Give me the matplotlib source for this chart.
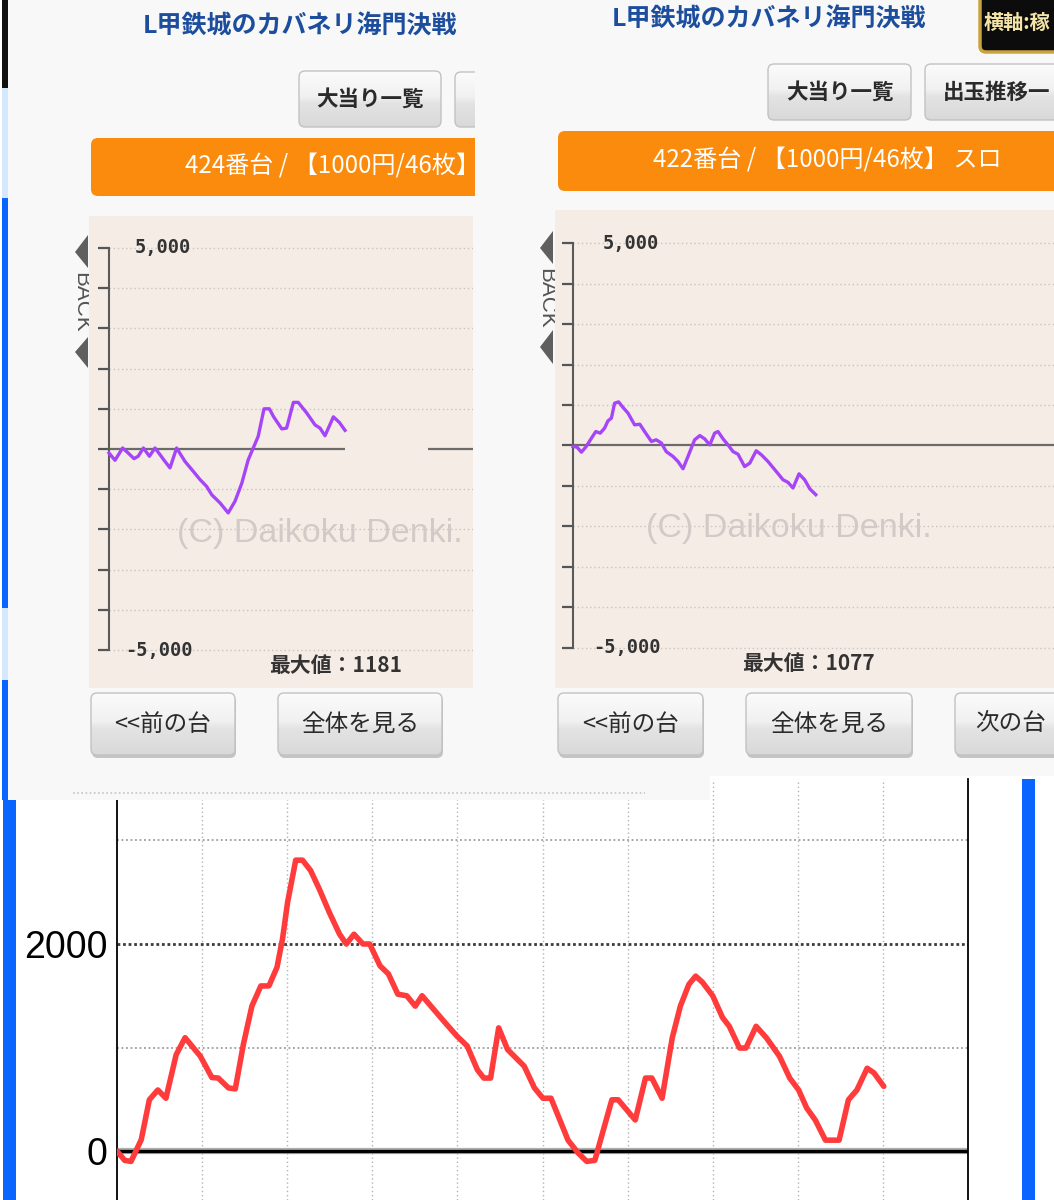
import numpy as np
import matplotlib
matplotlib.use("Agg")
import matplotlib.pyplot as plt
from matplotlib.patches import FancyBboxPatch, Rectangle, Polygon
from matplotlib.colors import LinearSegmentedColormap

plt.rcParams["font.family"] = ["Noto Sans CJK JP", "DejaVu Sans"]

# ---------------------------------------------------------------
# data (games, difference in medals)
# ---------------------------------------------------------------
left_games = [0, 150, 340, 480, 625, 730, 860, 1010, 1150, 1275, 1400, 1525,
              1690, 1900, 2110, 2275, 2440, 2570, 2775, 2980, 3150, 3320,
              3480, 3730, 3875, 4010, 4110, 4320, 4440, 4610, 4730, 4940,
              5150, 5275, 5400, 5610, 5760, 5900]
left_diff = [-100, -280, 25, -100, -240, -180, 25, -180, 25, -140, -310, -470,
             25, -310, -560, -760, -930, -1140, -1340, -1590, -1300, -850,
             -270, 315, 1000, 1000, 810, 500, 520, 1160, 1160, 900,
             600, 520, 330, 800, 660, 465]
left_max = 1181

right_games = [0, 100, 210, 330, 460, 570, 680, 790, 875, 960, 1040, 1140,
               1250, 1375, 1540, 1670, 1790, 1960, 2080, 2210, 2330, 2500,
               2625, 2750, 2875, 3040, 3170, 3290, 3420, 3540, 3625, 3750,
               3875, 4000, 4125, 4290, 4420, 4580, 4710, 4875, 5080, 5250,
               5375, 5500, 5650, 5790, 5920, 6070]
right_diff = [-25, -40, -165, -25, 180, 345, 305, 430, 610, 675, 1045, 1077,
              940, 800, 510, 525, 345, 100, 140, 60, -150, -270,
              -395, -575, -270, 140, 245, 165, 15, 305, 345, 165,
              15, -150, -215, -520, -435, -130, -230, -395, -640, -845,
              -910, -1050, -700, -845, -1070, -1215]
right_max = 1077

total_games = [0, 90, 165, 285, 380, 480, 575, 695, 800, 980, 1115, 1190,
               1310, 1390, 1485, 1585, 1690, 1785, 1880, 1945, 2005, 2100,
               2180, 2275, 2375, 2495, 2615, 2695, 2785, 2890, 2970, 3090,
               3190, 3300, 3405, 3505, 3585, 3720, 3840, 3995, 4115, 4235,
               4310, 4390, 4485, 4590, 4785, 4905, 5005, 5100, 5300, 5420,
               5520, 5615, 5815, 5890, 6090, 6210, 6285, 6405, 6525, 6620,
               6720, 6800, 6880, 7000, 7115, 7195, 7315, 7390, 7510, 7630,
               7785, 7905, 8010, 8105, 8205, 8325, 8485, 8595, 8695, 8815,
               8895, 9010]
total_diff = [0, -90, -100, 110, 495, 590, 510, 930, 1095, 915, 710, 705,
              610, 600, 1030, 1400, 1595, 1595, 1775, 2050, 2405, 2810,
              2810, 2710, 2535, 2305, 2095, 2000, 2095, 2000, 2000, 1790,
              1710, 1515, 1500, 1400, 1500, 1370, 1255, 1110, 1015, 785,
              705, 705, 1190, 980, 820, 610, 510, 510, 105, -20,
              -100, -90, 495, 495, 300, 705, 705, 510, 1095, 1400,
              1610, 1690, 1630, 1500, 1290, 1205, 995, 995, 1205, 1095,
              915, 705, 590, 415, 300, 105, 105, 495, 590, 800,
              755, 625]

y_levels = list(range(-5000, 5001, 1000))

W, H = 1054, 1200
PANEL = "#f8f8f8"
BEIGE = "#f5ece6"
ORANGE = "#fa8b0c"
BLUE = "#0a64ff"
PURPLE = "#a645f7"
TITLE_BLUE = "#1d4e9e"

btn_cmap = LinearSegmentedColormap.from_list(
    "btn", [(0, "#fbfbfb"), (0.45, "#f1f1f1"), (0.58, "#e3e3e3"), (1, "#d9d9d9")])
GRAD = np.linspace(0, 1, 64).reshape(-1, 1)


def px_rect(x0, y0, x1, y1):
    return [x0 / W, 1 - y1 / H, (x1 - x0) / W, (y1 - y0) / H]


def button(ax, x0, y0, x1, y1, label, z, fs=17, weight="normal",
           shadow=False, tx=None, ha="center"):
    if shadow:
        ax.add_patch(FancyBboxPatch((x0 + 1, y0 + 3), x1 - x0, y1 - y0,
                                    boxstyle="round,pad=0,rounding_size=6",
                                    fc="#c4c4c4", ec="none", zorder=z - 0.2))
    box = FancyBboxPatch((x0, y0), x1 - x0, y1 - y0,
                         boxstyle="round,pad=0,rounding_size=6",
                         fc="none", ec="#c2c2c2", lw=1, zorder=z + 0.1)
    ax.add_patch(box)
    im = ax.imshow(GRAD, extent=(x0, x1, y1, y0), aspect="auto", cmap=btn_cmap,
                   vmin=0, vmax=1, interpolation="bilinear", zorder=z)
    im.set_clip_path(box)
    if label:
        x = (x0 + x1) / 2 if tx is None else tx
        ax.text(x, (y0 + y1) / 2, label, ha=ha, va="center", fontsize=fs,
                fontweight=weight, color="#2a2a2a", zorder=z + 0.2)


def slot_chart(rect, xlim, ylim, games, diff, max_val, zero_segments,
               lab_top_x, lab_bot_x, wm_xy, max_xy):
    ax = fig.add_axes(rect)
    ax.set_zorder(2)
    ax.set_facecolor(BEIGE)
    ax.set_xlim(*xlim)
    ax.set_ylim(*ylim)
    for s in ["top", "right", "bottom"]:
        ax.spines[s].set_visible(False)
    ax.spines["left"].set_position(("data", 0))
    ax.spines["left"].set_bounds(-5000, 5000)
    ax.spines["left"].set_color("#5a5a5a")
    ax.spines["left"].set_linewidth(1.5)
    ax.set_xticks([])
    ax.set_yticks(y_levels)
    ax.set_yticklabels([])
    ax.tick_params(axis="y", direction="out", length=8, width=1.6,
                   color="#555555")
    for lv in y_levels:
        if lv != 0:
            ax.hlines(lv, 0, xlim[1], colors="#cbc3be", linestyles=(0, (1, 2)),
                      lw=1, zorder=1)
    for a, b in zero_segments:
        ax.hlines(0, a, b, colors="#6b6b6b", lw=1.6, zorder=2)
    ax.text(wm_xy[0], wm_xy[1], "(C) Daikoku Denki.", ha="center",
            va="center", fontsize=24.5, color="#d1cac6",
            family=["Liberation Sans"], zorder=1.5)
    ax.plot(games, diff, color=PURPLE, lw=2.4, zorder=3)
    ax.text(lab_top_x, 5000, "5,000", ha="left", va="center", fontsize=13.5,
            fontweight="bold", color="#333333", family=["DejaVu Sans Mono"])
    ax.text(lab_bot_x, -5000, "-5,000", ha="left", va="center",
            fontsize=13.5, fontweight="bold", color="#333333",
            family=["DejaVu Sans Mono"])
    ax.text(max_xy[0], max_xy[1], f"最大値：{max_val}", ha="center",
            va="center", fontsize=15, fontweight="bold", color="#333333")
    return ax


fig = plt.figure(figsize=(W / 100, H / 100), dpi=100)
fig.patch.set_facecolor("white")

# ---------------------------------------------------------------
# bottom chart (red line)
# ---------------------------------------------------------------
bot = fig.add_axes(px_rect(117, 779, 968, 1200))
bot.set_zorder(0)
bot.set_xlim(0, 10000)
bot.set_ylim(-473, 3594)
for s in ["top", "bottom"]:
    bot.spines[s].set_visible(False)
for s in ["left", "right"]:
    bot.spines[s].set_color("black")
    bot.spines[s].set_linewidth(1.3)
for gx in range(1000, 10000, 1000):
    bot.axvline(gx, color="#b3b3b3", ls=(0, (1, 2)), lw=1, zorder=1)
for gy in [1000, 3000]:
    bot.axhline(gy, color="#9c9c9c", ls=(0, (1, 1.5)), lw=1.3, zorder=1)
bot.axhline(2000, color="#3c3c3c", ls=(0, (1, 1)), lw=2, zorder=1)
bot.axhline(0, color="#b0b0b0", lw=4.5, zorder=1)
bot.axhline(0, color="black", lw=2.4, zorder=1.2)
bot.plot(total_games, total_diff, color="#ff3b3b", lw=4, zorder=3,
         solid_joinstyle="round", solid_capstyle="round")
bot.set_xticks([])
bot.set_yticks([0, 2000])
bot.set_yticklabels(["0", "2000"], family=["Liberation Sans"], fontsize=27)
bot.tick_params(axis="y", length=0, pad=7)

# ---------------------------------------------------------------
# screenshot chrome drawn in pixel coordinates
# ---------------------------------------------------------------
cv = fig.add_axes([0, 0, 1, 1])
cv.set_zorder(1)
cv.patch.set_alpha(0)
cv.axis("off")

# left screenshot
cv.add_patch(Rectangle((8, 0), 702, 800, fc=PANEL, ec="none", zorder=1))
cv.text(300, 27, "L甲鉄城のカバネリ海門決戦", ha="center", va="center",
        fontsize=18, fontweight="bold", color=TITLE_BLUE, zorder=3)
button(cv, 299, 71, 441, 127, "大当り一覧", 2, fs=15.5, weight="bold")
button(cv, 455, 72, 520, 127, "", 2)
cv.add_patch(FancyBboxPatch((91, 138), 400, 58,
                            boxstyle="round,pad=0,rounding_size=7",
                            fc=ORANGE, ec="none", zorder=2))
cv.text(185, 167, "424番台 / 【1000円/46枚】", ha="left", va="center",
        fontsize=17.4, color="white", zorder=3)
button(cv, 91, 693, 235, 755, "<<前の台", 2, fs=17, shadow=True)
button(cv, 278, 693, 442, 755, "全体を見る", 2, fs=17, shadow=True)
cv.plot([73, 645], [793, 793], color="#c4c4c4", ls=(0, (1, 1.5)), lw=1.2,
        zorder=2)
cv.add_patch(Polygon([(88, 235), (75, 252), (88, 268)], fc="#5f5f5f",
                     ec="none", zorder=2))
cv.add_patch(Polygon([(88, 337), (75, 352), (88, 368)], fc="#5f5f5f",
                     ec="none", zorder=2))
cv.text(81, 302, "BACK", rotation=-90, ha="center", va="center", fontsize=16,
        color="#555555", family=["Liberation Sans"], zorder=3)

# right screenshot
cv.add_patch(Rectangle((475, 0), 600, 776, fc=PANEL, ec="none", zorder=4))
cv.text(769, 20, "L甲鉄城のカバネリ海門決戦", ha="center", va="center",
        fontsize=18, fontweight="bold", color=TITLE_BLUE, zorder=6)
cv.add_patch(FancyBboxPatch((980, -12), 90, 64,
                            boxstyle="round,pad=0,rounding_size=6",
                            fc="#0c0c0c", ec="#c9a43e", lw=2.5, zorder=5))
cv.text(984, 22, "横軸:稼", ha="left", va="center", fontsize=14.5,
        fontweight="bold", color="#f4e5a6", zorder=6)
button(cv, 768, 64, 911, 120, "大当り一覧", 5, fs=15.5, weight="bold")
button(cv, 925, 64, 1070, 120, "出玉推移一", 5, fs=15.5, weight="bold",
       tx=943, ha="left")
cv.add_patch(FancyBboxPatch((558, 131), 520, 60,
                            boxstyle="round,pad=0,rounding_size=7",
                            fc=ORANGE, ec="none", zorder=5))
cv.text(653, 161, "422番台 / 【1000円/46枚】 スロ", ha="left", va="center",
        fontsize=17.4, color="white", zorder=6)
button(cv, 558, 693, 703, 755, "<<前の台", 5, fs=17, shadow=True)
button(cv, 746, 693, 912, 755, "全体を見る", 5, fs=17, shadow=True)
button(cv, 955, 693, 1080, 755, "次の台", 5, fs=17, shadow=True,
       tx=975, ha="left")
cv.add_patch(Polygon([(553, 231), (540, 248), (553, 264)], fc="#5f5f5f",
                     ec="none", zorder=5))
cv.add_patch(Polygon([(553, 330), (540, 347), (553, 364)], fc="#5f5f5f",
                     ec="none", zorder=5))
cv.text(546, 298, "BACK", rotation=-90, ha="center", va="center", fontsize=16,
        color="#555555", family=["Liberation Sans"], zorder=6)

# blue frame strips
cv.add_patch(Rectangle((2, 0), 6, 88, fc="#111111", ec="none", zorder=7))
cv.add_patch(Rectangle((2, 88), 6, 110, fc="#d6e8fb", ec="none", zorder=7))
cv.add_patch(Rectangle((2, 198), 6, 410, fc=BLUE, ec="none", zorder=7))
cv.add_patch(Rectangle((2, 608), 6, 72, fc="#d6e8fb", ec="none", zorder=7))
cv.add_patch(Rectangle((2, 680), 6, 120, fc=BLUE, ec="none", zorder=7))
cv.add_patch(Rectangle((3, 800), 13, 400, fc=BLUE, ec="none", zorder=7))
cv.add_patch(Rectangle((1022, 779), 13, 421, fc=BLUE, ec="none", zorder=7))

cv.set_xlim(0, W)
cv.set_ylim(H, 0)
cv.set_aspect("auto")

# ---------------------------------------------------------------
# the two slot graphs
# ---------------------------------------------------------------
slot_chart(px_rect(89, 216, 473, 688), (-500, 9100), (-5945, 5796),
           left_games, left_diff, left_max,
           [(0, 5900), (7975, 9100)],
           650, 400, (5275, -2090), (5675, -5373))
slot_chart(px_rect(555, 210, 1054, 688), (-450, 12025), (-5988, 5815),
           right_games, right_diff, right_max,
           [(0, 12025)],
           750, 500, (5400, -2050), (5875, -5383))

fig.savefig("out.png", dpi=100)
